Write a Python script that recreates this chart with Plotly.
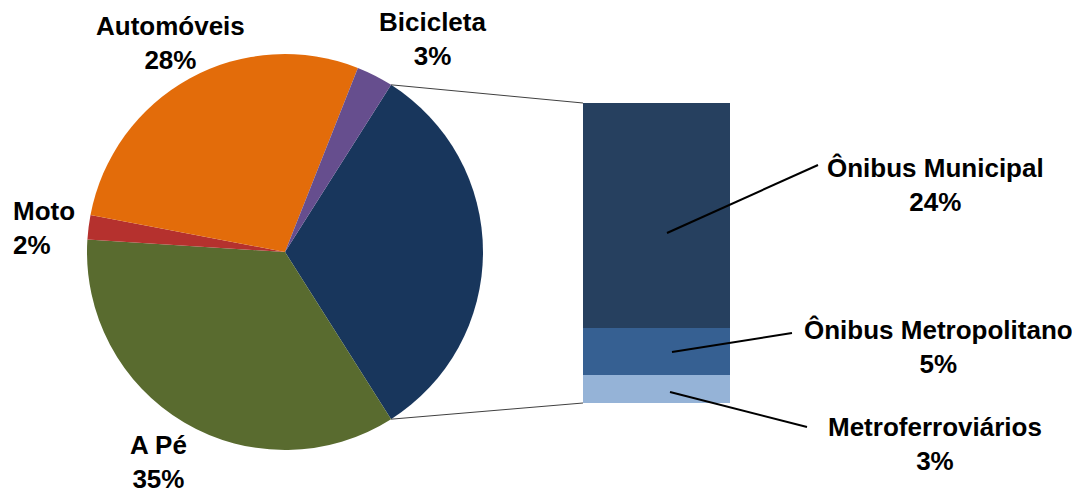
import math
import plotly.graph_objects as go

# ---- data ----
pie_labels = ["Transporte Coletivo", "A Pé", "Moto", "Automóveis", "Bicicleta"]
sub_labels = ["Metroferroviários", "Ônibus Metropolitano", "Ônibus Municipal"]
sub_values = [3, 5, 24]
other_values = [35, 2, 28, 3]
pie_values = [sum(sub_values)] + other_values

pie_colors = ["#18365C", "#596B2F", "#B5312E", "#E36C0A", "#664E8E"]
bar_colors = ["#95B3D7", "#366092", "#26405F"]

# page has an 8px body margin; figure sized to fit the 1080x494 window
OFF = 8
W, H = 1080 - OFF, 494 - OFF
FONT = "Liberation Sans, Arial, sans-serif"

def px(x):
    return (x - OFF) / W

def py(y):
    return 1 - (y - OFF) / H

# pie geometry (window pixels)
cx, cy, r = 285, 252, 198
total = sum(pie_values)
coll_angle = 360 * pie_values[0] / total
rotation = 90 - coll_angle / 2

# bar geometry (window pixels)
bx0, bx1, by0, by1 = 583, 730, 103, 403

fig = go.Figure()
fig.add_trace(go.Pie(
    labels=pie_labels, values=pie_values, sort=False, direction="clockwise",
    rotation=rotation, textinfo="none", hoverinfo="label+percent",
    marker=dict(colors=pie_colors, line=dict(width=0)),
    domain=dict(x=[px(cx - r), px(cx + r)], y=[py(cy + r), py(cy - r)]),
    showlegend=False,
))

for lab, val, col in zip(sub_labels, sub_values, bar_colors):
    fig.add_trace(go.Bar(
        x=[0], y=[val], name=lab, marker=dict(color=col, line=dict(width=0)),
        width=1, xaxis="x", yaxis="y", showlegend=False,
    ))

fig.update_layout(
    width=W, height=H, margin=dict(l=0, r=0, t=0, b=0),
    paper_bgcolor="white", plot_bgcolor="rgba(0,0,0,0)",
    barmode="stack", bargap=0,
    xaxis=dict(domain=[px(bx0), px(bx1)], range=[-0.5, 0.5], visible=False, fixedrange=True),
    yaxis=dict(domain=[py(by1), py(by0)], range=[0, sum(sub_values)],
               visible=False, fixedrange=True),
)

# connector lines from pie collective slice edges to bar corners
a1 = math.radians(rotation)
a2 = math.radians(rotation + coll_angle)
p1 = (cx + r * math.sin(a1), cy - r * math.cos(a1))
p2 = (cx + r * math.sin(a2), cy - r * math.cos(a2))
for (x0, y0), (x1, y1) in [(p1, (bx0, by0)), (p2, (bx0, by1))]:
    fig.add_shape(type="line", xref="paper", yref="paper",
                  x0=px(x0), y0=py(y0), x1=px(x1), y1=py(y1),
                  line=dict(color="#404040", width=1))

# leader lines from bar segments to labels
leaders = [((667, 233), (818, 165)), ((672, 352), (792, 333)), ((670, 392), (807, 427))]
for (x0, y0), (x1, y1) in leaders:
    fig.add_shape(type="line", xref="paper", yref="paper",
                  x0=px(x0), y0=py(y0), x1=px(x1), y1=py(y1),
                  line=dict(color="black", width=2))

# labels
label_pos = {
    "Automóveis": (170, 43, "center"),
    "Bicicleta": (432, 39, "center"),
    "Moto": (12, 228, "left"),
    "A Pé": (158, 462, "center"),
    "Ônibus Municipal": (935, 185, "center"),
    "Ônibus Metropolitano": (938, 347, "center"),
    "Metroferroviários": (935, 444, "center"),
}
vals = dict(zip(pie_labels, pie_values))
vals.update(dict(zip(sub_labels, sub_values)))
for lab, (x, y, anchor) in label_pos.items():
    fig.add_annotation(
        x=px(x), y=py(y), xref="paper", yref="paper", showarrow=False,
        xanchor=anchor, yanchor="middle", align=anchor, borderpad=0,
        text=f"<b>{lab}</b><br><b>{round(100 * vals[lab] / total)}%</b>",
        font=dict(family=FONT, size=26, color="black"),
    )

fig.write_html("out.html")
